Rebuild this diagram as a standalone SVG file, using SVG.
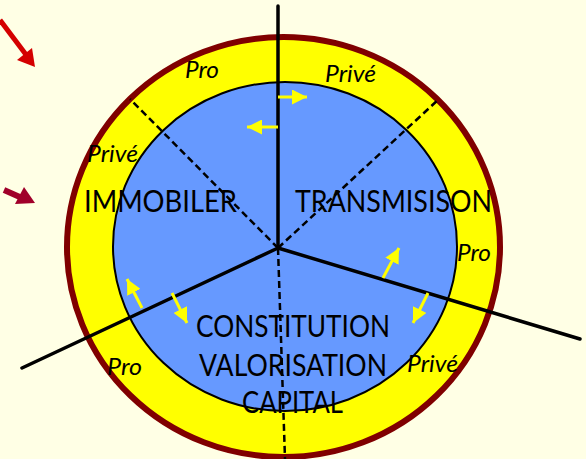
<svg xmlns="http://www.w3.org/2000/svg" width="586" height="459" viewBox="0 0 586 459">
<style>
.lbl{font-family:Lato,"Liberation Sans",sans-serif;font-size:30px;fill:#000}
.sm{font-family:Lato,"Liberation Sans",sans-serif;font-style:italic;font-size:23px;fill:#000}
.solid{stroke:#000;stroke-width:3.5;fill:none;stroke-linecap:round}
.dash{stroke:#000;stroke-width:2.5;fill:none;stroke-dasharray:7 4}
.ya{stroke:#FFFF00;stroke-width:3;fill:none}
</style>
<defs>
<marker id="yh" viewBox="0 0 10 10" refX="10" refY="5" markerWidth="5" markerHeight="5" orient="auto" markerUnits="strokeWidth">
<path d="M0,0 L10,5 L0,10 Z" fill="#FFFF00"/>
</marker>
</defs>
<rect width="586" height="459" fill="#FFFFE5"/>
<g id="pointers">
<path d="M0,20 L27,56" stroke="#D40000" stroke-width="5"/>
<path d="M35,67 L17,60 L32,48 Z" fill="#D40000"/>
<path d="M4,190 L22,198" stroke="#A0002A" stroke-width="6"/>
<path d="M35,203 L15,204 L24,187 Z" fill="#A0002A"/>
</g>
<g id="ring">
<ellipse cx="283.5" cy="247" rx="216.5" ry="210" fill="#FFFF00" stroke="#800000" stroke-width="6"/>
</g>
<g id="core">
<ellipse cx="285" cy="246.5" rx="172" ry="164.5" fill="#6699FF" stroke="#000" stroke-width="2"/>
</g>
<g id="connectors">
<line class="solid" x1="278" y1="6" x2="278" y2="248"/>
<line class="solid" x1="278" y1="248" x2="22" y2="368"/>
<line class="solid" x1="278" y1="248" x2="580" y2="339"/>
<line class="dash" x1="278" y1="248" x2="130" y2="99"/>
<line class="dash" x1="278" y1="248" x2="439" y2="99"/>
<line class="dash" x1="278" y1="248" x2="285" y2="459"/>
<line class="ya" x1="278" y1="97" x2="307" y2="97" marker-end="url(#yh)"/>
<line class="ya" x1="278" y1="127" x2="247" y2="127" marker-end="url(#yh)"/>
<line class="ya" x1="142" y1="308" x2="127" y2="279" marker-end="url(#yh)"/>
<line class="ya" x1="172" y1="293" x2="187" y2="323" marker-end="url(#yh)"/>
<line class="ya" x1="383" y1="278" x2="399" y2="248" marker-end="url(#yh)"/>
<line class="ya" x1="428" y1="293" x2="413" y2="323" marker-end="url(#yh)"/>
</g>
<g id="immobilier">
<text class="lbl" x="84" y="212" textLength="153" lengthAdjust="spacingAndGlyphs">IMMOBILER</text>
<text class="sm" x="87" y="162" textLength="51" lengthAdjust="spacingAndGlyphs">Privé</text>
<text class="sm" x="185" y="78" textLength="34" lengthAdjust="spacingAndGlyphs">Pro</text>
</g>
<g id="transmission">
<text class="lbl" x="295" y="212" textLength="197" lengthAdjust="spacingAndGlyphs">TRANSMISISON</text>
<text class="sm" x="325" y="82" textLength="51" lengthAdjust="spacingAndGlyphs">Privé</text>
<text class="sm" x="457" y="261" textLength="34" lengthAdjust="spacingAndGlyphs">Pro</text>
</g>
<g id="constitution">
<text class="lbl" x="293" y="337" text-anchor="middle" textLength="194" lengthAdjust="spacingAndGlyphs">CONSTITUTION</text>
<text class="lbl" x="293" y="376" text-anchor="middle" textLength="188" lengthAdjust="spacingAndGlyphs">VALORISATION</text>
<text class="lbl" x="292.5" y="413" text-anchor="middle" textLength="101" lengthAdjust="spacingAndGlyphs">CAPITAL</text>
<text class="sm" x="407" y="372" textLength="51" lengthAdjust="spacingAndGlyphs">Privé</text>
<text class="sm" x="107" y="375" textLength="35" lengthAdjust="spacingAndGlyphs">Pro</text>
</g>
</svg>
